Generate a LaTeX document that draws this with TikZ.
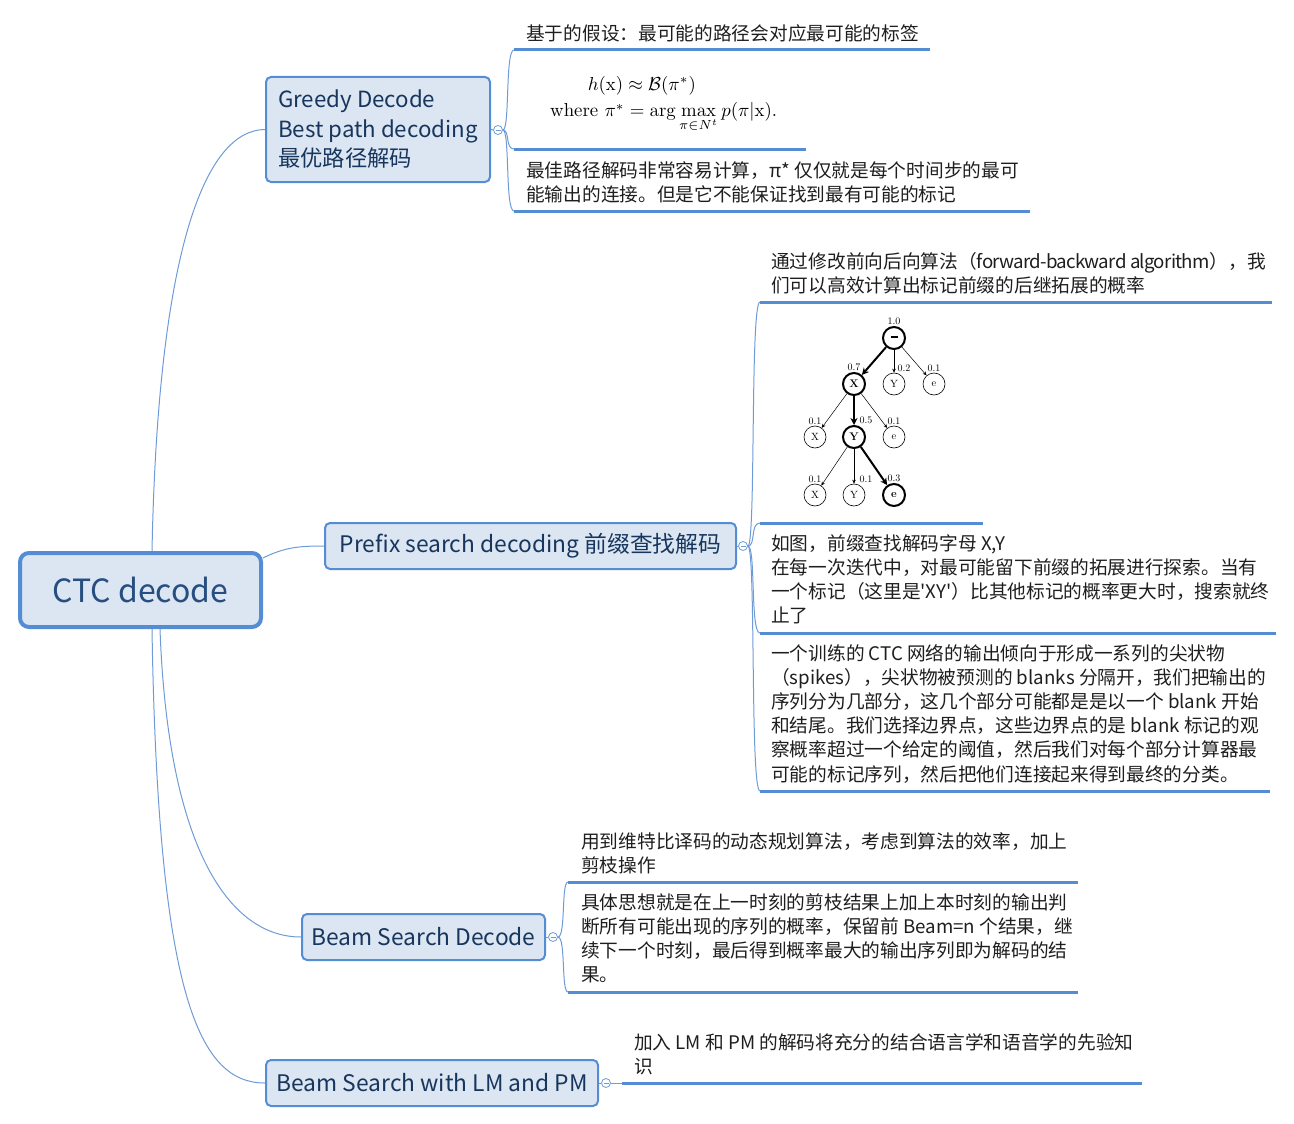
\documentclass[tikz,border=0pt]{standalone}
\usepackage{amsmath}
\usepackage{graphicx}
\usepackage[no-math]{fontspec}
\newfontfamily\cjk{Noto Sans CJK SC}
\usetikzlibrary{arrows.meta}
\definecolor{lineblue}{RGB}{84,141,212}
\definecolor{connblue}{RGB}{110,155,215}
\definecolor{fillblue}{RGB}{220,230,242}
\definecolor{navy}{RGB}{23,54,93}
\definecolor{roottext}{RGB}{38,78,128}
\definecolor{bodytext}{RGB}{30,30,30}
\begin{document}
\begin{tikzpicture}[x=1pt,y=-1pt,
  rootbox/.style={draw=lineblue, line width=4pt, fill=fillblue, rounded corners=9pt, text=roottext, font=\cjk\fontsize{32}{36}\selectfont, inner sep=0pt},
  topic/.style={draw=lineblue, line width=2pt, fill=fillblue, rounded corners=5pt, text=navy, font=\cjk\fontsize{22.8}{29.5}\selectfont, inner sep=0pt, align=left},
  body/.style={font=\cjk\fontsize{18.7}{24.2}\selectfont, text=bodytext, anchor=north west, inner sep=0pt, align=left},
  uline/.style={draw=lineblue, line width=3pt},
  conn/.style={draw=connblue, line width=1pt},
  fold/.style={circle, draw=connblue, fill=white, minimum size=9pt, inner sep=0pt, line width=0.8pt,
    path picture={\draw[connblue,line width=0.7pt] ([xshift=-2.5pt]path picture bounding box.center) -- ([xshift=2.5pt]path picture bounding box.center);}},
  tn/.style={circle, draw, minimum size=22pt, inner sep=0pt, line width=0.6pt, font=\rmfamily\fontsize{10.5}{11}\selectfont},
  tb/.style={circle, draw, minimum size=22pt, inner sep=0pt, line width=2pt, font=\rmfamily\bfseries\fontsize{11}{11}\selectfont},
  lab/.style={font=\rmfamily\fontsize{10}{10}\selectfont, inner sep=1pt},
  thinarr/.style={line width=0.5pt, -{Stealth[length=4pt,width=3.5pt]}},
  thickarr/.style={line width=2pt, -{Stealth[length=7pt,width=7pt]}}
]
\useasboundingbox (0,0) rectangle (1294,1124);

% root and level-1 topics
\node[rootbox, minimum width=241pt, minimum height=74pt] (root) at (140.5,590) {CTC decode};
\node[topic, minimum width=224pt, minimum height=105pt, font=\cjk\fontsize{22.3}{29.5}\selectfont] (greedy) at (378,129.5) {Greedy Decode\\Best path decoding\\最优路径解码};
\node[topic, minimum width=411pt, minimum height=46pt] (prefix) at (530.5,546) {Prefix search decoding 前缀查找解码};
\node[topic, minimum width=243pt, minimum height=46pt] (beam) at (423.5,937) {Beam Search Decode};
\node[topic, minimum width=332pt, minimum height=46pt] (lmpm) at (432,1083) {Beam Search with LM and PM};

% connectors from root
\coordinate (rg) at (152,551);
\coordinate (rp) at (263,558);
\coordinate (rb) at (160,629);
\coordinate (rl) at (152,629);
\draw[conn] (rg) .. controls (158,250) and (205,130) .. (greedy.west);
\draw[conn] (rp) .. controls (285,547) and (300,546) .. (prefix.west);
\draw[conn] (rb) .. controls (168,850) and (230,937) .. (beam.west);
\draw[conn] (rl) .. controls (158,1000) and (200,1083) .. (lmpm.west);

% fold markers
\node[fold] (fg) at (498,130) {};
\node[fold] (fp) at (743,546) {};
\node[fold] (fb) at (553,937) {};
\node[fold] (fl) at (606,1083) {};
\draw[conn] (greedy.east) -- (fg.west);
\draw[conn] (prefix.east) -- (fp.west);
\draw[conn] (beam.east) -- (fb.west);
\draw[conn] (lmpm.east) -- (fl.west);

% ---------- Greedy children ----------
\coordinate (g1a) at (514,50);  \coordinate (g1b) at (930,50);
\coordinate (g2a) at (514,149); \coordinate (g2b) at (806,149);
\coordinate (g3a) at (514,211); \coordinate (g3b) at (1030,211);
\node[body] (g1) at (526,24) {基于的假设：最可能的路径会对应最可能的标签};
\node[anchor=north west, inner sep=0pt] (g2) at (550,71)
  {\scalebox{1.88}{\fontsize{10}{14.3}\selectfont\begin{tabular}{@{}l@{}}\hspace*{20pt}$h(\mathrm{x})\approx\mathcal{B}(\pi^*)$\\ where $\pi^*=\arg\max\limits_{\pi\in N^t} p(\pi|\mathrm{x})$.\end{tabular}}};
\node[body] (g3) at (526,161) {最佳路径解码非常容易计算，π* 仅仅就是每个时间步的最可\\能输出的连接。但是它不能保证找到最有可能的标记};
\draw[conn] (fg.east) .. controls (510,130) and (505,50) .. (g1a);
\draw[conn] (fg.east) .. controls (510,130) and (505,149) .. (g2a);
\draw[conn] (fg.east) .. controls (510,130) and (505,211) .. (g3a);
\draw[uline] (g1a) -- (g1b);
\draw[uline] (g2a) -- (g2b);
\draw[uline] (g3a) -- (g3b);

% ---------- Prefix children ----------
\coordinate (p1a) at (760,302); \coordinate (p1b) at (1272,302);
\coordinate (p2a) at (760,523); \coordinate (p2b) at (983,523);
\coordinate (p3a) at (760,633); \coordinate (p3b) at (1276,633);
\coordinate (p4a) at (760,791); \coordinate (p4b) at (1270,791);
\node[body] (p1) at (771,252) {通过修改前向后向算法（{\addfontfeature{LetterSpace=-4}forward-backward algorithm}），我\\们可以高效计算出标记前缀的后继拓展的概率};
\node[body] (p3) at (771,534) {如图，前缀查找解码字母 X,Y\\在每一次迭代中，对最可能留下前缀的拓展进行探索。当有\\一个标记（这里是'XY'）比其他标记的概率更大时，搜索就终\\止了};
\node[body] (p4) at (771,644) {一个训练的 CTC 网络的输出倾向于形成一系列的尖状物\\（spikes），尖状物被预测的 blanks 分隔开，我们把输出的\\序列分为几部分，这几个部分可能都是是以一个 blank 开始\\和结尾。我们选择边界点，这些边界点的是 blank 标记的观\\察概率超过一个给定的阈值，然后我们对每个部分计算器最\\可能的标记序列，然后把他们连接起来得到最终的分类。};
\draw[conn] (fp.east) .. controls (756,546) and (750,302) .. (p1a);
\draw[conn] (fp.east) .. controls (756,546) and (750,523) .. (p2a);
\draw[conn] (fp.east) .. controls (756,546) and (750,633) .. (p3a);
\draw[conn] (fp.east) .. controls (756,546) and (750,791) .. (p4a);
\draw[uline] (p1a) -- (p1b);
\draw[uline] (p2a) -- (p2b);
\draw[uline] (p3a) -- (p3b);
\draw[uline] (p4a) -- (p4b);

% tree figure
\node[tb, label={[lab]above:1.0}] (t0) at (894,338) {\rule[2.4pt]{7pt}{2.4pt}};
\node[tb, label={[lab]above:0.7}] (t1) at (854,384) {X};
\node[tn, label={[lab,xshift=10pt]above:0.2}] (t2) at (894,384) {Y};
\node[tn, label={[lab]above:0.1}] (t3) at (934,384) {e};
\node[tn, label={[lab]above:0.1}] (t4) at (815,437) {X};
\node[tb, label={[lab,xshift=12pt]above:0.5}] (t5) at (854,437) {Y};
\node[tn, label={[lab]above:0.1}] (t6) at (894,437) {e};
\node[tn, label={[lab]above:0.1}] (t7) at (815,495) {X};
\node[tn, label={[lab,xshift=12pt]above:0.1}] (t8) at (854,495) {Y};
\node[tb, label={[lab]above:0.3}] (t9) at (894,495) {e};
\draw[thickarr] (t0) -- (t1);
\draw[thinarr] (t0) -- (t2);
\draw[thinarr] (t0) -- (t3);
\draw[thinarr] (t1) -- (t4);
\draw[thickarr] (t1) -- (t5);
\draw[thinarr] (t1) -- (t6);
\draw[thinarr] (t5) -- (t7);
\draw[thinarr] (t5) -- (t8);
\draw[thickarr] (t5) -- (t9);

% ---------- Beam children ----------
\coordinate (b1a) at (568,882); \coordinate (b1b) at (1078,882);
\coordinate (b2a) at (568,992); \coordinate (b2b) at (1078,992);
\node[body] (b1) at (581,832) {用到维特比译码的动态规划算法，考虑到算法的效率，加上\\剪枝操作};
\node[body] (b2) at (581,893) {具体思想就是在上一时刻的剪枝结果上加上本时刻的输出判\\断所有可能出现的序列的概率，保留前 Beam=n 个结果，继\\续下一个时刻，最后得到概率最大的输出序列即为解码的结\\果。};
\draw[conn] (fb.east) .. controls (566,937) and (561,882) .. (b1a);
\draw[conn] (fb.east) .. controls (566,937) and (561,992) .. (b2a);
\draw[uline] (b1a) -- (b1b);
\draw[uline] (b2a) -- (b2b);

% ---------- LM/PM child ----------
\coordinate (l1a) at (622,1083); \coordinate (l1b) at (1142,1083);
\node[body] (l1) at (634,1033) {加入 LM 和 PM 的解码将充分的结合语言学和语音学的先验知\\识};
\draw[conn] (fl.east) -- (l1a);
\draw[uline] (l1a) -- (l1b);
\end{tikzpicture}
\end{document}
